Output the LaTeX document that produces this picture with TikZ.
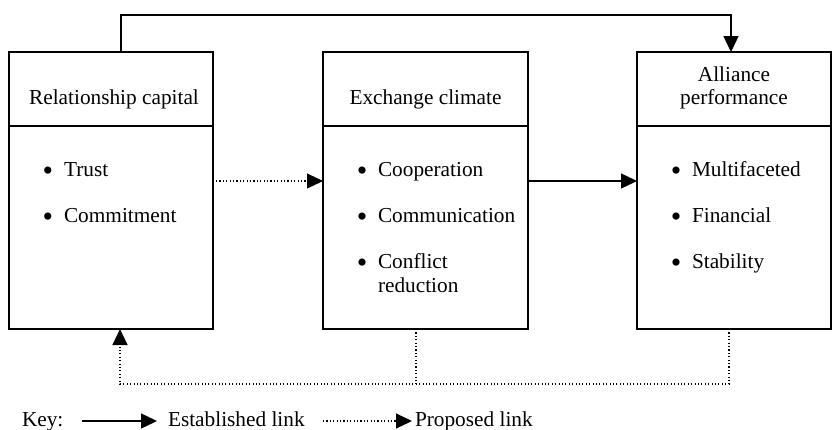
\documentclass[tikz,border=0pt]{standalone}
\usepackage{fontspec}
\setmainfont{Liberation Serif}
\usetikzlibrary{arrows.meta}
\begin{document}
\begin{tikzpicture}[x=1pt,y=-1pt,
  box/.style={draw,line width=1.3pt,inner sep=0pt,outer sep=0pt,minimum height=277pt},
  txt/.style={inner sep=0pt,outer sep=0pt,font=\fontsize{21.3}{24}\selectfont},
  bul/.style={inner sep=0pt,outer sep=0pt,anchor=center,font=\fontsize{30}{30}\selectfont},
  arr/.style={line width=1.3pt,-{Triangle[length=16pt,width=15pt]}},
  dotln/.style={line width=1.1pt,dash pattern=on 1.1pt off 2.3pt},
  dotarr/.style={dotln,-{Triangle[length=16pt,width=15pt]}}]
\useasboundingbox (0,0) rectangle (833,429);

% boxes
\node[box,minimum width=204pt] (rc) at (111,190.5) {};
\node[box,minimum width=205pt] (ec) at (425.5,190.5) {};
\node[box,minimum width=194pt] (ap) at (734,190.5) {};

% header dividers
\draw[line width=1.3pt] (rc.west |- 0,126) -- (rc.east |- 0,126);
\draw[line width=1.3pt] (ec.west |- 0,126) -- (ec.east |- 0,126);
\draw[line width=1.3pt] (ap.west |- 0,126) -- (ap.east |- 0,126);

% headers
\node[txt,anchor=base] (rch) at (114,104) {Relationship capital};
\node[txt,anchor=base] (ech) at (425.5,104) {Exchange climate};
\node[txt,anchor=base] (aph1) at (734,81) {Alliance};
\node[txt,anchor=base] (aph2) at (734,104) {performance};

% items box 1
\node[bul] (rb1) at (48,174) {\textbullet};
\node[txt,anchor=base west] (ri1) at (64,176) {Trust};
\node[bul] (rb2) at (48,220) {\textbullet};
\node[txt,anchor=base west] (ri2) at (64,222) {Commitment};

% items box 2
\node[bul] (eb1) at (362,174) {\textbullet};
\node[txt,anchor=base west] (ei1) at (378,176) {Cooperation};
\node[bul] (eb2) at (362,220) {\textbullet};
\node[txt,anchor=base west] (ei2) at (378,222) {Communication};
\node[bul] (eb3) at (362,266) {\textbullet};
\node[txt,anchor=base west] (ei3) at (378,268) {Conflict};
\node[txt,anchor=base west] (ei3b) at (378,292) {reduction};

% items box 3
\node[bul] (ab1) at (676,174) {\textbullet};
\node[txt,anchor=base west] (ai1) at (692,176) {Multifaceted};
\node[bul] (ab2) at (676,220) {\textbullet};
\node[txt,anchor=base west] (ai2) at (692,222) {Financial};
\node[bul] (ab3) at (676,266) {\textbullet};
\node[txt,anchor=base west] (ai3) at (692,268) {Stability};

% connectors
\draw[arr] ([xshift=10pt]rc.north) -- ++(0,-37) -| ([xshift=-3pt]ap.north);
\draw[dotarr] ([xshift=3pt,yshift=9.5pt]rc.east) -- ([yshift=9.5pt]ec.west);
\draw[arr] ([yshift=9.5pt]ec.east) -- ([yshift=9.5pt]ap.west);
\draw[dotarr] ([xshift=-5pt]ap.south) -- ++(0,55) -| ([xshift=9pt]rc.south);
\draw[dotln] ([xshift=-9.5pt]ec.south) -- ++(0,55);

% key
\node[txt,anchor=base west] (key) at (22,426) {Key:};
\coordinate (k1) at (82,421);
\coordinate (k2) at (157,421);
\draw[arr] (k1) -- (k2);
\node[txt,anchor=base west] (kest) at (168,426) {Established link};
\coordinate (k3) at (323,421);
\coordinate (k4) at (412,421);
\draw[dotarr] (k3) -- (k4);
\node[txt,anchor=base west] (kprop) at (415,426) {Proposed link};
\end{tikzpicture}
\end{document}
